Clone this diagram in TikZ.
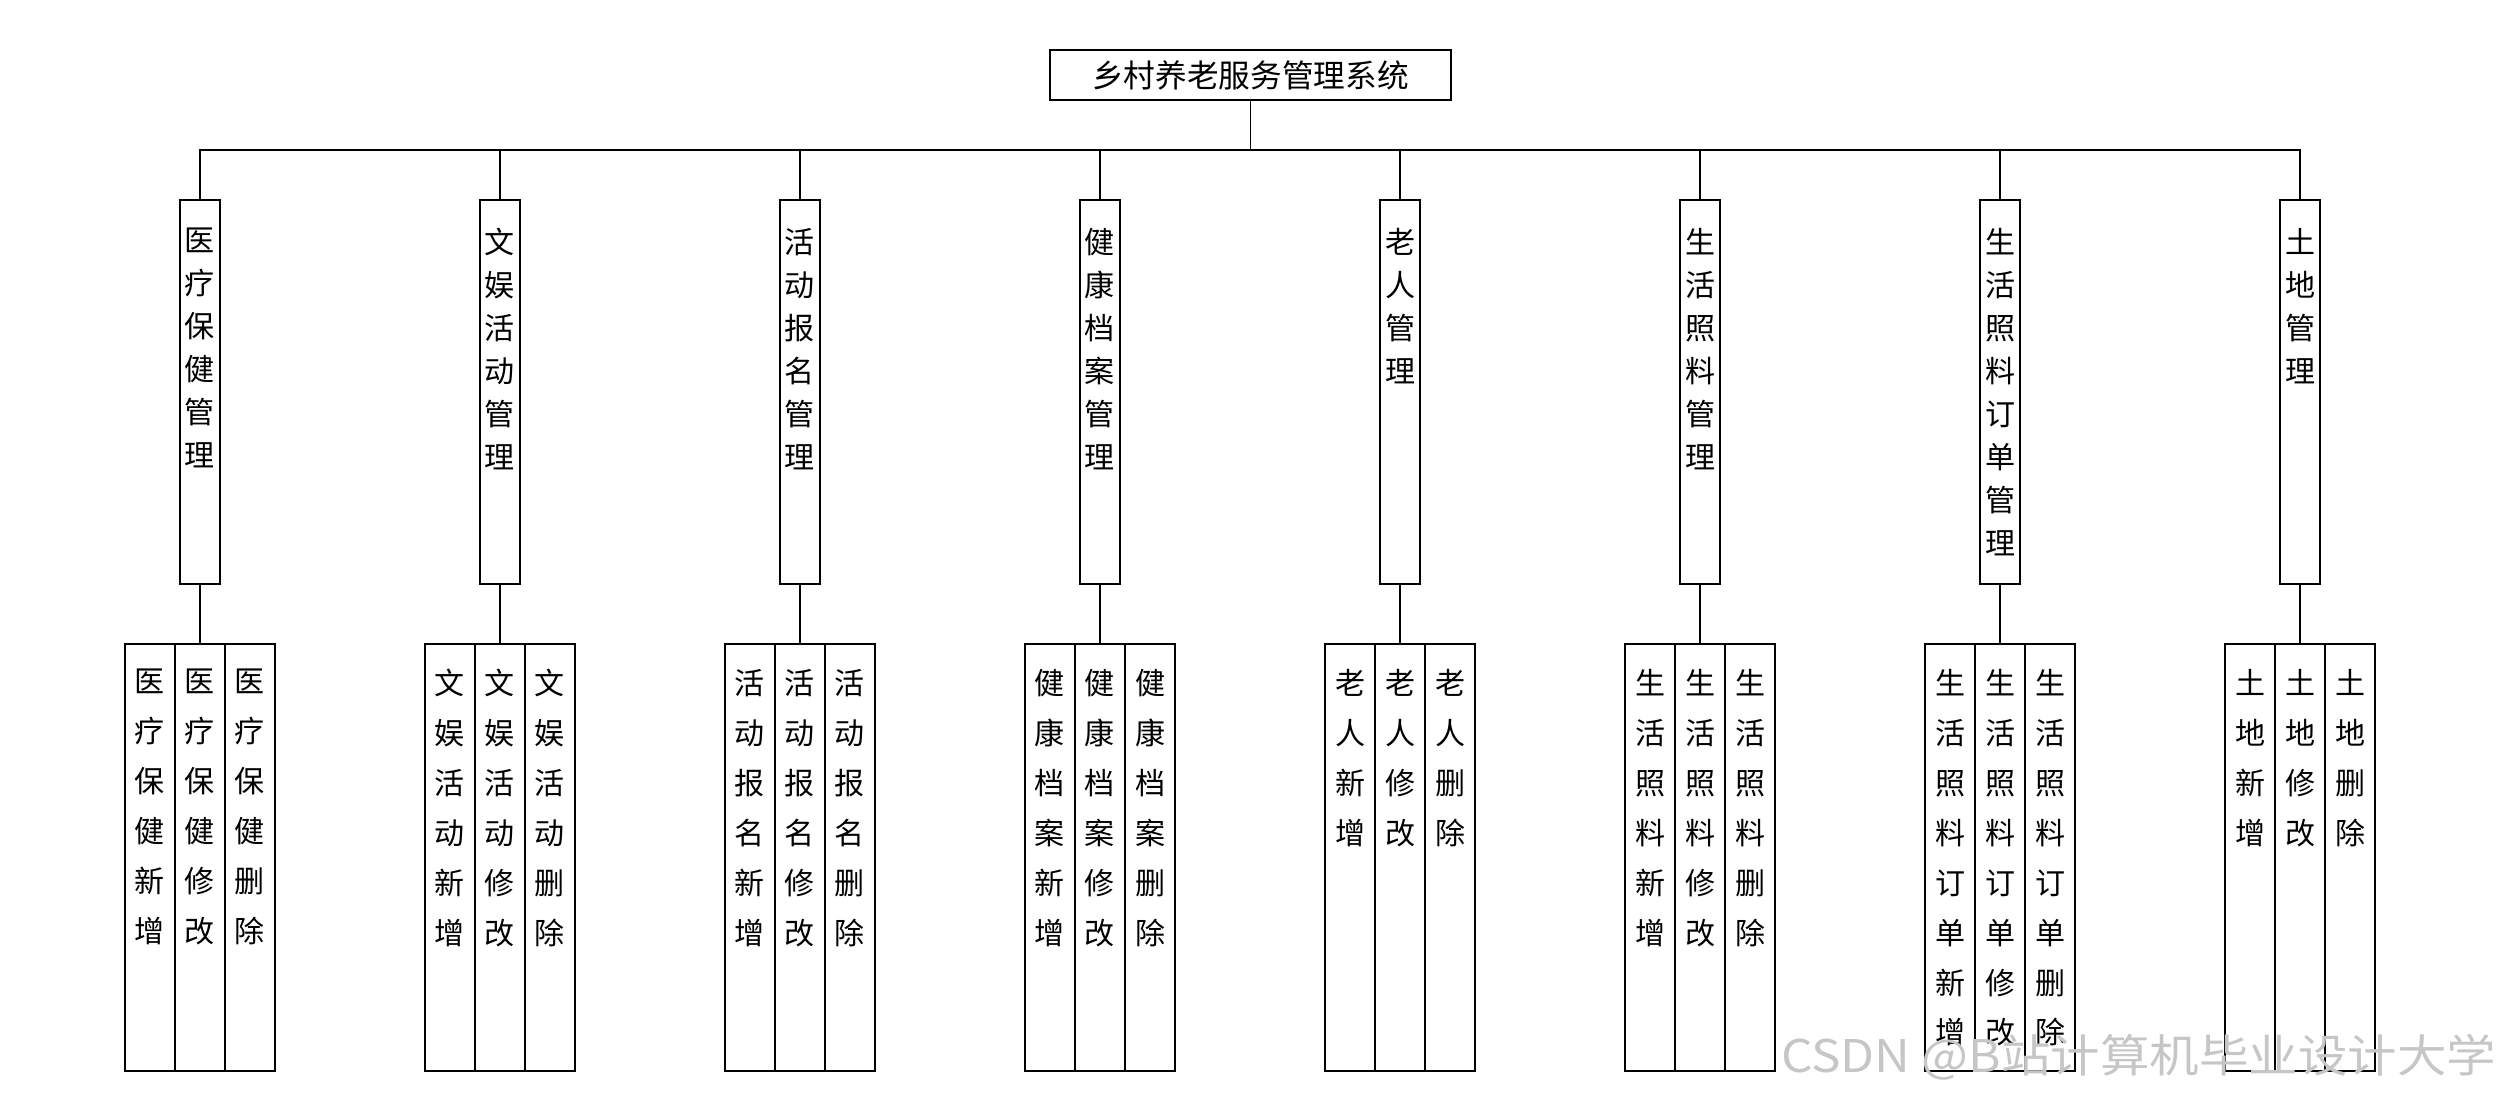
\documentclass[tikz,border=0pt]{standalone}
\usepackage{fontspec}
\newfontfamily\cjk{Noto Sans CJK SC}
\begin{document}
\begin{tikzpicture}[x=0.01cm,y=-0.01cm, line width=0.4pt,
  box/.style={draw, inner sep=0pt},
  rootbox/.style={box, minimum width=4.01cm, minimum height=0.5cm, font=\cjk\fontsize{9}{10}\selectfont},
  midbox/.style={box, minimum width=0.4cm, minimum height=3.84cm},
  leafbox/.style={box, minimum width=0.5cm, minimum height=4.27cm},
  midtxt/.style={anchor=north, inner sep=0pt, align=center, font=\cjk\fontsize{8.54}{12.23}\selectfont},
  leaftxt/.style={anchor=north, inner sep=0pt, align=center, font=\cjk\fontsize{8.54}{14.2}\selectfont},
  wmark/.style={anchor=east, inner sep=0pt, transform shape, text=gray!45, font=\cjk\fontsize{12.8}{14}\selectfont}]
\useasboundingbox (0,0) rectangle (2500,1100);

\node[rootbox] (root) at (1250.5,75) {乡村养老服务管理系统};
\coordinate (bus) at (1250.5,150);
\draw (root.south) -- (bus);

\foreach \i/\x/\m/\p in {
  1/200/{医\\疗\\保\\健\\管\\理}/{医\\疗\\保\\健},
  2/500/{文\\娱\\活\\动\\管\\理}/{文\\娱\\活\\动},
  3/800/{活\\动\\报\\名\\管\\理}/{活\\动\\报\\名},
  4/1100/{健\\康\\档\\案\\管\\理}/{健\\康\\档\\案},
  5/1400/{老\\人\\管\\理}/{老\\人},
  6/1700/{生\\活\\照\\料\\管\\理}/{生\\活\\照\\料},
  7/2000/{生\\活\\照\\料\\订\\单\\管\\理}/{生\\活\\照\\料\\订\\单},
  8/2300/{土\\地\\管\\理}/{土\\地}}{
  \node[midbox] (m\i) at (\x,392) {};
  \node[midtxt] (mt\i) at (\x,227.5) {\m};
  \node[leafbox] (la\i) at (\x-50,857.5) {};
  \node[leafbox] (lb\i) at (\x,857.5) {};
  \node[leafbox] (lc\i) at (\x+50,857.5) {};
  \node[leaftxt] (ta\i) at (\x-50,668.5) {\p\\新\\增};
  \node[leaftxt] (tb\i) at (\x,668.5) {\p\\修\\改};
  \node[leaftxt] (tc\i) at (\x+50,668.5) {\p\\删\\除};
  \draw (bus) -| (m\i.north);
  \draw (m\i.south) -- (lb\i.north);
}

\begin{scope}[shift={(2497,1057)}, xscale=1.1]
  \node[wmark] (wm) at (0,0) {CSDN @B站计算机毕业设计大学};
\end{scope}
\end{tikzpicture}
\end{document}
